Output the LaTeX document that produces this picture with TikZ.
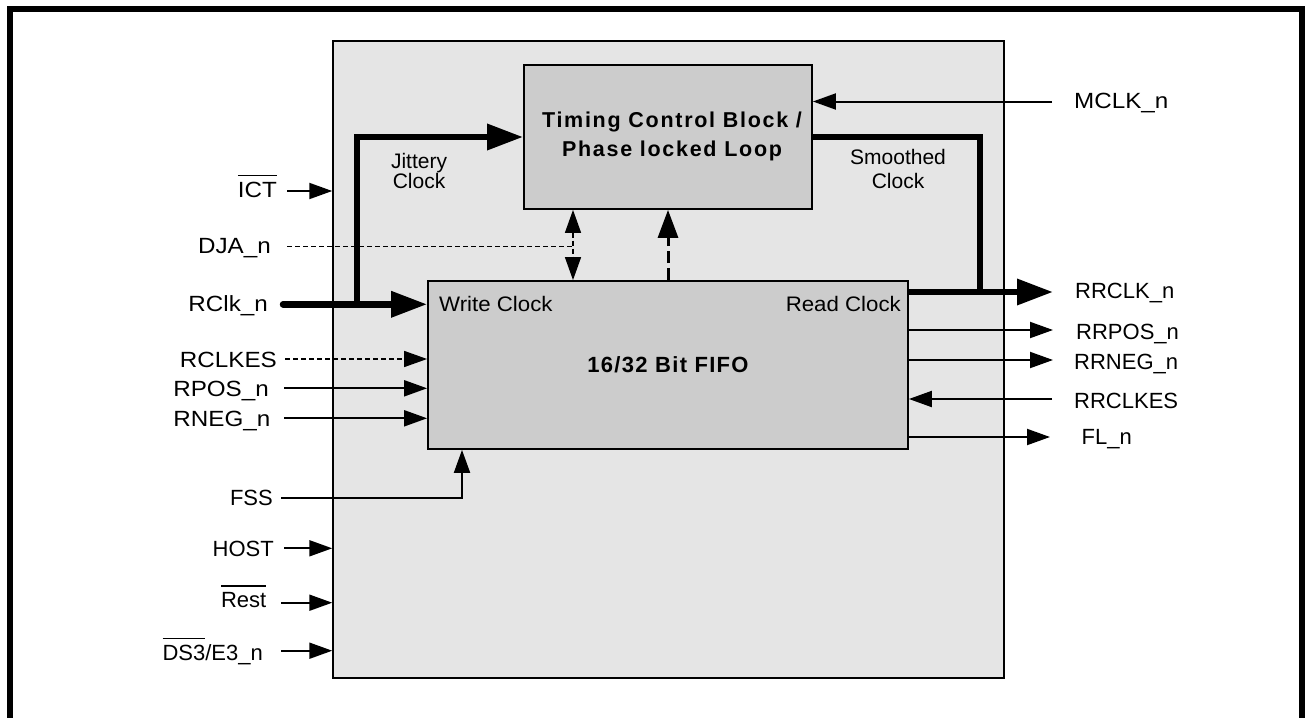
\documentclass[tikz,border=0pt]{standalone}
\usepackage{fontspec}
\setmainfont{Liberation Sans}
\usetikzlibrary{arrows.meta}
\newcommand\myovl[1]{\vbox{\hrule height 1.5pt\kern 5.5pt\hbox{#1}}}
\begin{document}
\begin{tikzpicture}[x=1pt,y=-1pt,
  lbl/.style={font=\fontsize{22}{26}\selectfont, inner sep=0pt},
  lblw/.style={font=\fontsize{22}{26}\selectfont\addfontfeature{FakeStretch=1.1}, inner sep=0pt},
  smalltxt/.style={font=\fontsize{21}{24}\selectfont, inner sep=0pt},
  sig/.style={line width=2pt},
  sigarr/.style={sig,-{Triangle[length=23pt,width=16pt]}},
  fat/.style={line width=6.5pt},
  fatarr/.style={fat,-{Triangle[length=36pt,width=25pt]}},
  dsh/.style={line width=1.5pt, dash pattern=on 5pt off 3pt},
  dshthick/.style={line width=3pt, dash pattern=on 12pt off 5pt},
  blk/.style={draw, line width=1.8pt, fill=black!20, inner sep=0pt}
]
\useasboundingbox (0,0) rectangle (1305,717);
\fill[white] (0,0) rectangle (1305,717);
% outer frame
\draw[line width=6pt] (9.5,740) -- (9.5,9) -- (1301.5,9) -- (1301.5,740);
% chip
\node[draw, line width=1.5pt, fill=black!10, minimum width=671, minimum height=637, inner sep=0pt] (chip) at (668.5,359.5) {};
% blocks
\node[blk, minimum width=288, minimum height=144] (tcb) at (668,137) {};
\node[inner sep=0pt, align=center, font=\bfseries\fontsize{21.5}{29}\selectfont\addfontfeature{LetterSpace=8}] (tcbt) at (672,136) {Timing Control Block /\\Phase locked Loop};
\node[blk, minimum width=480, minimum height=168, font=\bfseries\fontsize{22}{26}\selectfont\addfontfeature{LetterSpace=6}] (fifo) at (668,365) {16/32 Bit FIFO};
\node[smalltxt, font=\fontsize{21}{24}\selectfont\addfontfeature{FakeStretch=1.06}, anchor=base west] (wclk) at (439,311) {Write Clock};
\node[smalltxt, font=\fontsize{21}{24}\selectfont\addfontfeature{FakeStretch=1.06}, anchor=base east] (rdclk) at (901,311) {Read Clock};
\node[smalltxt, align=center, font=\fontsize{21}{19}\selectfont] (jit) at (419,171) {Jittery\\Clock};
\node[smalltxt, align=center, font=\fontsize{21}{24}\selectfont] (smo) at (898,169) {Smoothed\\Clock};
% left labels
\node[lblw, anchor=base east] (ict) at (277,197) {\myovl{ICT}};
\node[lblw, anchor=base east] (dja) at (271,253) {DJA\_n};
\node[lblw, anchor=base east] (rclkn) at (268,311) {RClk\_n};
\node[lblw, anchor=base east] (rclkes) at (277,367) {RCLKES};
\node[lblw, anchor=base east] (rpos) at (269,396.5) {RPOS\_n};
\node[lblw, anchor=base east] (rneg) at (270.5,426) {RNEG\_n};
\node[lbl, anchor=base east] (fss) at (273,505) {FSS};
\node[lbl, anchor=base east] (host) at (274,556.5) {HOST};
\node[lbl, anchor=base east] (rest) at (266.5,607.5) {\myovl{Rest}};
\node[lbl, anchor=base east] (ds3) at (263,660) {\myovl{DS3}/E3\_n};
% right labels
\node[lblw, anchor=base west] (mclk) at (1074,108.3) {MCLK\_n};
\node[lbl, anchor=base west] (rrclk) at (1075,298.3) {RRCLK\_n};
\node[lbl, anchor=base west] (rrpos) at (1076,339) {RRPOS\_n};
\node[lbl, anchor=base west] (rrneg) at (1074,369) {RRNEG\_n};
\node[lbl, anchor=base west] (rrclkes) at (1074,408.3) {RRCLKES};
\node[lbl, anchor=base west] (fl) at (1081.5,444) {FL\_n};
% coordinates
\coordinate (ictA) at (287,191);
\coordinate (djaA) at (287,246.5);
\coordinate (djaX) at (573,0);
\coordinate (rclkA) at (283,304.3);
\coordinate (jitC) at (357,304.3);
\coordinate (rcesA) at (285,359);
\coordinate (rposA) at (284,388.3);
\coordinate (rnegA) at (284,418.3);
\coordinate (fssA) at (281,498.3);
\coordinate (fssX) at (462,0);
\coordinate (hostA) at (284,548.3);
\coordinate (restA) at (281,602.7);
\coordinate (ds3A) at (281,650.7);
\coordinate (mclkA) at (1052,101.5);
\coordinate (smoC) at (980,0);
\coordinate (rrclkA) at (1053,292);
\coordinate (rrposA) at (1053,330);
\coordinate (rrnegA) at (1053,360);
\coordinate (rrcesA) at (1052,399);
\coordinate (flA) at (1050,437);
% left connectors
\draw[sigarr] (ictA) -- (ictA -| chip.west);
\draw[dsh] (djaA) -- (djaA -| djaX);
\draw[dsh, {Triangle[length=23pt,width=16pt]}-{Triangle[length=23pt,width=16pt]}] (djaX |- tcb.south) -- (djaX |- fifo.north);
\draw[dshthick, -{Triangle[length=28pt,width=20pt]}] (fifo.north) -- (tcb.south);
\draw[fatarr, line cap=round] (rclkA) -- (rclkA -| fifo.west);
\draw[fatarr] (jitC) -- (jitC |- tcb.west) -- (tcb.west);
\draw[dsh, -{Triangle[length=23pt,width=16pt]}] (rcesA) -- (rcesA -| fifo.west);
\draw[sigarr] (rposA) -- (rposA -| fifo.west);
\draw[sigarr] (rnegA) -- (rnegA -| fifo.west);
\draw[sigarr] (fssA) -- (fssA -| fssX) -- (fssX |- fifo.south);
\draw[sigarr] (hostA) -- (hostA -| chip.west);
\draw[sigarr] (restA) -- (restA -| chip.west);
\draw[sigarr] (ds3A) -- (ds3A -| chip.west);
% right connectors
\draw[sigarr] (mclkA) -- (mclkA -| tcb.east);
\draw[fat] (tcb.east) -- (tcb.east -| smoC) -- (smoC |- rrclkA);
\draw[fatarr] (rrclkA -| fifo.east) -- (rrclkA);
\draw[sigarr] (rrposA -| fifo.east) -- (rrposA);
\draw[sigarr] (rrnegA -| fifo.east) -- (rrnegA);
\draw[sigarr] (rrcesA) -- (rrcesA -| fifo.east);
\draw[sigarr] (flA -| fifo.east) -- (flA);
\end{tikzpicture}
\end{document}
